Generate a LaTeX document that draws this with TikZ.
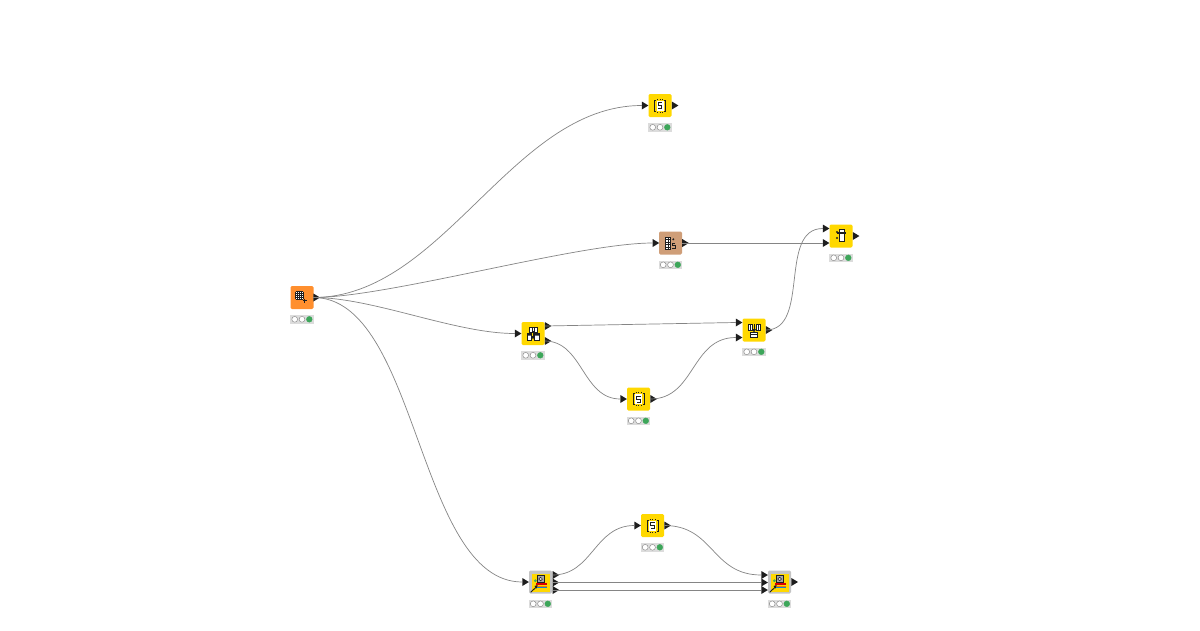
\documentclass[tikz,border=0pt]{standalone}
\definecolor{kyellow}{HTML}{FFD800}
\definecolor{korange}{HTML}{FF8F2E}
\definecolor{kbrown}{HTML}{CF9E78}
\definecolor{kgray}{HTML}{C4C4C4}
\definecolor{kstat}{HTML}{DCDCDC}
\definecolor{kgreen}{HTML}{3DA65A}
\definecolor{kink}{HTML}{1E1E1E}
\definecolor{kwire}{HTML}{858585}
\tikzset{
  x=1pt,y=-1pt,
  wire/.style={draw=kwire,line width=0.7pt},
  nodebox/.style={rounded corners=1.3pt,minimum size=23pt,inner sep=0pt,line width=0pt},
  statusbox/.style={fill=kstat,minimum width=23.5pt,minimum height=8.5pt,inner sep=0pt},
  lamp/.style={circle,draw=black!50,line width=0.4pt,minimum size=5.8pt,inner sep=0pt,fill=white},
  lampon/.style={circle,draw=kgreen,line width=0.4pt,minimum size=5.8pt,inner sep=0pt,fill=kgreen},
  portmark/.style={fill=kink,draw=none},
  ico/.style={draw=kink,line width=0.7pt},
}
\newcommand{\knode}[4]{%
  \node[nodebox,fill=#4] (#1) at (#2,#3) {};
  \node[statusbox] (#1st) at (#2,#3+21.8) {};
  \node[lamp] at (#2-7.3,#3+21.8) {};
  \node[lamp] at (#2,#3+21.8) {};
  \node[lampon] at (#2+7.3,#3+21.8) {};
}
\newcommand{\mnode}[3]{%
  \node[nodebox,fill=kgray] (#1) at (#2,#3) {};
  \fill[kyellow] (#2-8.8,#3-8.5) rectangle (#2+9.2,#3+9.5);
  \node[statusbox] (#1st) at (#2,#3+21.8) {};
  \node[lamp] at (#2-7.3,#3+21.8) {};
  \node[lamp] at (#2,#3+21.8) {};
  \node[lampon] at (#2+7.3,#3+21.8) {};
  \draw[kink,fill=black!35,line width=0.6pt] (#2-3.2,#3-6.3) rectangle (#2+3.5,#3+0.3);
  \draw[kink,fill=black!15,line width=0.5pt] (#2+0.1,#3-3) circle (1.8pt);
  \fill[kgreen] (#2-5.2,#3-1.3) circle (1.5pt);
  \fill[red!85!black] (#2-5,#3+1) rectangle (#2+6.2,#3+3);
  \fill[orange!90!red] (#2-5,#3+3.5) rectangle (#2+6.2,#3+4.7);
  \fill[cyan!70!blue] (#2-5,#3+5) rectangle (#2+6.2,#3+6.3);
  \draw[kink,line width=0.9pt] (#2-9.8,#3+10.3) -- (#2-4,#3+4.7);
  \fill[kink] (#2-2.8,#3+3) -- (#2-6,#3+4) -- (#2-4,#3+6.5) -- cycle;
}
\newcommand{\kport}[3]{%
  \coordinate (#1) at (#2,#3);
  \fill[portmark] (#2,#3-4) -- (#2+6.6,#3) -- (#2,#3+4) -- cycle;
}
\newcommand{\sicon}[2]{%
  \fill[white] (#1-3.5,#2-5) rectangle (#1+3.5,#2+5);
  \draw[ico,line width=0.9pt] (#1-4,#2-5.5) -- (#1-5.5,#2-5.5) -- (#1-5.5,#2+5.5) -- (#1-4,#2+5.5);
  \draw[ico,line width=0.9pt] (#1+4,#2-5.5) -- (#1+5.5,#2-5.5) -- (#1+5.5,#2+5.5) -- (#1+4,#2+5.5);
  \draw[ico,line width=1pt] (#1+2,#2-3) -- (#1-1.8,#2-3) -- (#1-1.8,#2) -- (#1+1.8,#2) -- (#1+1.8,#2+3) -- (#1-2,#2+3);
  \draw[kink,dotted,line width=0.7pt] (#1-3,#2-6.6) -- (#1+3,#2-6.6);
  \draw[kink,dotted,line width=0.7pt] (#1-3,#2+6.6) -- (#1+3,#2+6.6);
}
\begin{document}
\begin{tikzpicture}
\useasboundingbox (0,0) rectangle (1200,630);
\fill[white] (0,0) rectangle (1200,630);

\knode{src}{302}{297.5}{korange}
\knode{sa}{660}{105.5}{kyellow}
\knode{br}{670.5}{243}{kbrown}
\knode{jn}{841}{236}{kyellow}
\knode{sp}{533}{333.5}{kyellow}
\knode{cc}{754}{330}{kyellow}
\knode{sb}{638.5}{399}{kyellow}
\knode{sc}{652.5}{525.5}{kyellow}
\mnode{ma}{540.5}{582}
\mnode{mb}{779.5}{582}

\kport{srcO}{313.4}{297.5}
\kport{saI}{641.8}{105.5}
\kport{saO}{671.8}{105.5}
\kport{brI}{652.6}{243}
\kport{brO}{682.2}{243}
\kport{jnIa}{822.8}{228.5}
\kport{jnIb}{822.8}{243}
\kport{jnO}{852.8}{236}
\kport{spI}{514.8}{333.5}
\kport{spOa}{544.8}{326}
\kport{spOb}{544.8}{341}
\kport{ccIa}{735.8}{322.5}
\kport{ccIb}{735.8}{337.5}
\kport{ccO}{765.8}{330}
\kport{sbI}{620.3}{399}
\kport{sbO}{650.3}{399}
\kport{scI}{634.3}{525.5}
\kport{scO}{664.3}{525.5}
\kport{maI}{522.3}{582}
\kport{maOa}{552.6}{575}
\kport{maOb}{552.6}{582.5}
\kport{maOc}{552.6}{590}
\kport{mbIa}{761.3}{575}
\kport{mbIb}{761.3}{582.5}
\kport{mbIc}{761.3}{590}
\kport{mbO}{791.4}{582}

\draw[wire] (srcO) .. controls +(130,0) and +(-130,0) .. (saI);
\draw[wire] (srcO) .. controls +(75,0) and +(-75,0) .. (brI);
\draw[wire] (srcO) .. controls +(60,0) and +(-60,0) .. (spI);
\draw[wire] (srcO) .. controls +(105,0) and +(-105,0) .. (maI);
\draw[wire] (brO) -- (jnIb);
\draw[wire] (spOa) -- (ccIa);
\draw[wire] (spOb) .. controls +(38,0) and +(-38,0) .. (sbI);
\draw[wire] (sbO) .. controls +(45,0) and +(-45,0) .. (ccIb);
\draw[wire] (ccO) .. controls +(45,0) and +(-45,0) .. (jnIa);
\draw[wire] (maOa) .. controls +(40,0) and +(-40,0) .. (scI);
\draw[wire] (scO) .. controls +(50,0) and +(-50,0) .. (mbIa);
\draw[wire] (maOb) -- (mbIb);
\draw[wire] (maOc) -- (mbIc);

% table creator icon
\fill[white] (295.7,291.7) rectangle (303.3,299.2);
\foreach \i in {0,...,4}{
  \draw[kink,line width=0.5pt] (295.7+\i*1.9,291.7) -- (295.7+\i*1.9,299.2);
  \draw[kink,line width=0.5pt] (295.7,291.7+\i*1.87) -- (303.3,291.7+\i*1.87);
}
\draw[kink,line width=1pt] (302.5,300.8) -- (307,300.8) (304.75,298.6) -- (304.75,303);

\sicon{660}{105.5}
\sicon{638.5}{399}
\sicon{652.5}{525.5}

% brown node icon
\fill[white] (665.3,237) rectangle (670.7,249.3);
\foreach \i in {0,...,5}{
  \draw[kink,line width=0.6pt] (665.3,237+\i*2.46) -- (670.7,237+\i*2.46);
}
\draw[kink,line width=0.6pt] (665.3,237) -- (665.3,249.3) (668,237) -- (668,249.3) (670.7,237) -- (670.7,249.3);
\fill[kink] (673.3,239.3) circle (1.1pt);
\draw[kink,line width=0.8pt] (675.2,243.5) -- (672,243.5) -- (672,245.7) -- (675,245.7) -- (675,247.9) -- (671.8,247.9);

% joiner icon
\draw[ico,fill=white] (839.3,229.7) rectangle (844,241.3);
\fill[kink] (836.7,232.4) rectangle (846,233.6);
\fill[kink] (837,238) circle (1.1pt);
\fill[kink] (837,232) circle (1.1pt);

% splitter icon
\draw[ico,fill=white] (529.3,327.7) rectangle (537.3,332);
\draw[ico] (532,327.7) -- (532,332) (534.7,327.7) -- (534.7,332);
\draw[ico,fill=white] (527,333.5) rectangle (531,340);
\draw[ico,fill=white] (534.8,333.5) rectangle (539.2,340);
\fill[kink] (527,333.5) rectangle (531,335.5) (534.8,333.5) rectangle (539.2,335.5);
\draw[kink,line width=0.9pt] (533,331) -- (533,337);
\fill[kink] (531,336) -- (535,336) -- (533,339.5) -- cycle;

% concatenate icon
\draw[ico,fill=white] (748,324) rectangle (752,330);
\draw[ico,fill=white] (756,324) rectangle (760,330);
\draw[ico] (750,324) -- (750,330) (758,324) -- (758,330);
\draw[ico,fill=white] (750.7,332.5) rectangle (757.3,337);
\fill[kink] (750.7,334) rectangle (757.3,335);
\draw[kink,line width=0.9pt] (754,324) -- (754,330);
\fill[kink] (752,329) -- (756,329) -- (754,332.5) -- cycle;
\end{tikzpicture}
\end{document}
